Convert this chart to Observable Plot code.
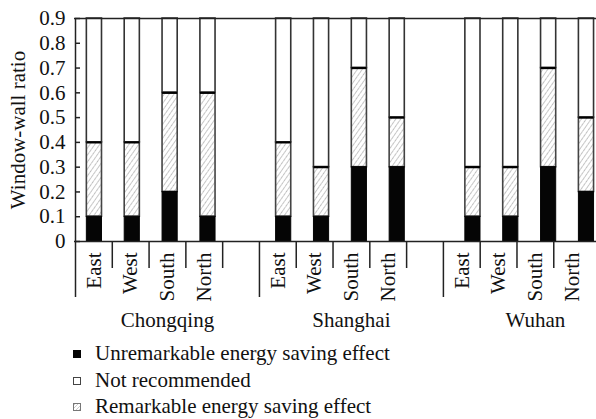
<!DOCTYPE html>
<html>
<head>
<meta charset="utf-8">
<script src="https://cdn.jsdelivr.net/npm/d3@7"></script>
<script src="https://cdn.jsdelivr.net/npm/@observablehq/plot@0.6"></script>
<style>
  html, body { margin: 0; padding: 0; background: white; overflow: hidden; }
  #legend { font-family: "Liberation Serif", serif; font-size: 21px; line-height: 26.5px; padding-left: 73px; color: #111; }
  #legend .sw { display: inline-block; width: 8px; height: 8px; box-sizing: border-box; margin-right: 14px; vertical-align: 2px; }
</style>
</head>
<body>
<div id="chart"></div>
<div id="legend"></div>
<script>
// ---- data ----
const cities = ["Chongqing", "Shanghai", "Wuhan"];
const orientations = ["East", "West", "South", "North"];
// top of the black "unremarkable" segment
const unremarkable = [
  [0.1, 0.1, 0.2, 0.1],
  [0.1, 0.1, 0.3, 0.3],
  [0.1, 0.1, 0.3, 0.2]
];
// top of the hatched "remarkable" segment
const remarkable = [
  [0.4, 0.4, 0.6, 0.6],
  [0.4, 0.3, 0.7, 0.5],
  [0.3, 0.3, 0.7, 0.5]
];
const yMax = 0.9;
const yTicks = [0, 0.1, 0.2, 0.3, 0.4, 0.5, 0.6, 0.7, 0.8, 0.9];
const yTitle = "Window-wall ratio";
const legendItems = ["Unremarkable energy saving effect", "Not recommended", "Remarkable energy saving effect"];

// ---- layout helpers ----
const slotsPerCity = orientations.length + 1;   // 4 bars + 1 gap
const nSlots = cities.length * slotsPerCity - 1;
const LABEL_STEP = 0.972;  // category-label axis spacing relative to bar spacing
const barHalf = 0.2;
const FS = 21;

const bars = [];
cities.forEach((c, ci) => orientations.forEach((o, oi) => {
  bars.push({city: c, orient: o, slot: ci * slotsPerCity + oi, v1: unremarkable[ci][oi], v2: remarkable[ci][oi]});
}));
const tickSlots = d3.range(nSlots);
const longTicks = tickSlots.filter(i => i % slotsPerCity === 0);
const shortTicks = tickSlots.filter(i => i % slotsPerCity !== 0);
const groupLabels = cities.map((c, ci) => ({city: c, pos: (ci * slotsPerCity + slotsPerCity / 2) * LABEL_STEP}));

const font = "'Liberation Serif', 'DejaVu Serif', serif";

const plot = Plot.plot({
  width: 596,
  height: 340,
  marginLeft: 75,
  marginRight: -8.9,
  marginTop: 18,
  marginBottom: 99,
  style: {fontFamily: font, fontSize: FS + "px", background: "white", overflow: "hidden", color: "#111"},
  x: {domain: [0, nSlots], axis: null},
  y: {domain: [0, yMax], axis: null},
  marks: [
    // white "not recommended" segment
    Plot.rectY(bars, {x1: d => d.slot + 0.5 - barHalf, x2: d => d.slot + 0.5 + barHalf, y1: d => d.v2, y2: yMax, fill: "white", stroke: "#333", strokeWidth: 1.6}),
    // hatched "remarkable" segment
    Plot.rectY(bars, {x1: d => d.slot + 0.5 - barHalf, x2: d => d.slot + 0.5 + barHalf, y1: d => d.v1, y2: d => d.v2, fill: "url(#hatch)", stroke: "#444", strokeWidth: 1.6}),
    // black "unremarkable" segment
    Plot.rectY(bars, {x1: d => d.slot + 0.5 - barHalf, x2: d => d.slot + 0.5 + barHalf, y1: 0, y2: d => d.v1, fill: "#050505", stroke: "#050505", strokeWidth: 1}),
    // thick line at top of hatched segment
    Plot.ruleY(bars, {x1: d => d.slot + 0.5 - barHalf, x2: d => d.slot + 0.5 + barHalf, y: d => d.v2, stroke: "#000", strokeWidth: 2.2}),
    // frame lines
    Plot.ruleY([yMax], {stroke: "#222", strokeWidth: 1.5, insetLeft: -1}),
    Plot.ruleY([0], {stroke: "#222", strokeWidth: 1.5, insetLeft: -1}),
    Plot.ruleX([0], {y1: 0, y2: yMax, stroke: "#222", strokeWidth: 1.5}),
    // y ticks (inward)
    Plot.ruleY(yTicks, {y: d => d, x1: 0, x2: 0, insetRight: -5, stroke: "#222", strokeWidth: 1.5}),
    Plot.axisY({ticks: yTicks, tickSize: 0, tickPadding: 10, label: null, fontSize: FS,
      tickFormat: d => d === 0 ? "0" : d.toFixed(1)}),
    Plot.text([yTitle], {x: 0, y: yMax / 2, dx: -57, rotate: -90, fontSize: FS, fill: "#111"}),
    // category axis ticks
    Plot.ruleX(shortTicks, {x: d => d * LABEL_STEP, y1: 0, y2: 0, insetBottom: -27, stroke: "#222", strokeWidth: 1.5}),
    Plot.ruleX(longTicks, {x: d => d * LABEL_STEP, y1: 0, y2: 0, insetBottom: -56, stroke: "#222", strokeWidth: 1.5}),
    // orientation labels
    Plot.text(bars, {x: d => (d.slot + 0.5) * LABEL_STEP, y: 0, text: d => d.orient, rotate: -90, textAnchor: "end", dy: 11, fontSize: FS, fill: "#111"}),
    // city labels
    Plot.text(groupLabels, {x: "pos", y: 0, text: "city", dy: 79, fontSize: FS, fill: "#111"})
  ]
});

plot.insertAdjacentHTML("afterbegin",
  `<defs><pattern id="hatch" patternUnits="userSpaceOnUse" width="4" height="4" patternTransform="rotate(35)">
     <rect width="4" height="4" fill="white"/>
     <line x1="0" y1="0" x2="0" y2="4" stroke="#777" stroke-width="1" stroke-dasharray="1.6 0.6"/>
   </pattern></defs>`);
document.getElementById("chart").appendChild(plot);

// legend
const swatchStyles = [
  "background:#050505;border:1px solid #050505;",
  "background:white;border:1.5px solid #444;",
  "background:repeating-linear-gradient(135deg,#ccc 0 1px,#fff 1px 2.5px);border:1.5px solid #777;"
];
const legend = d3.select("#legend");
legendItems.forEach((t, i) => {
  const row = legend.append("div");
  row.append("span").attr("class", "sw").attr("style", swatchStyles[i]);
  row.append("span").text(t);
});
</script>
</body>
</html>
